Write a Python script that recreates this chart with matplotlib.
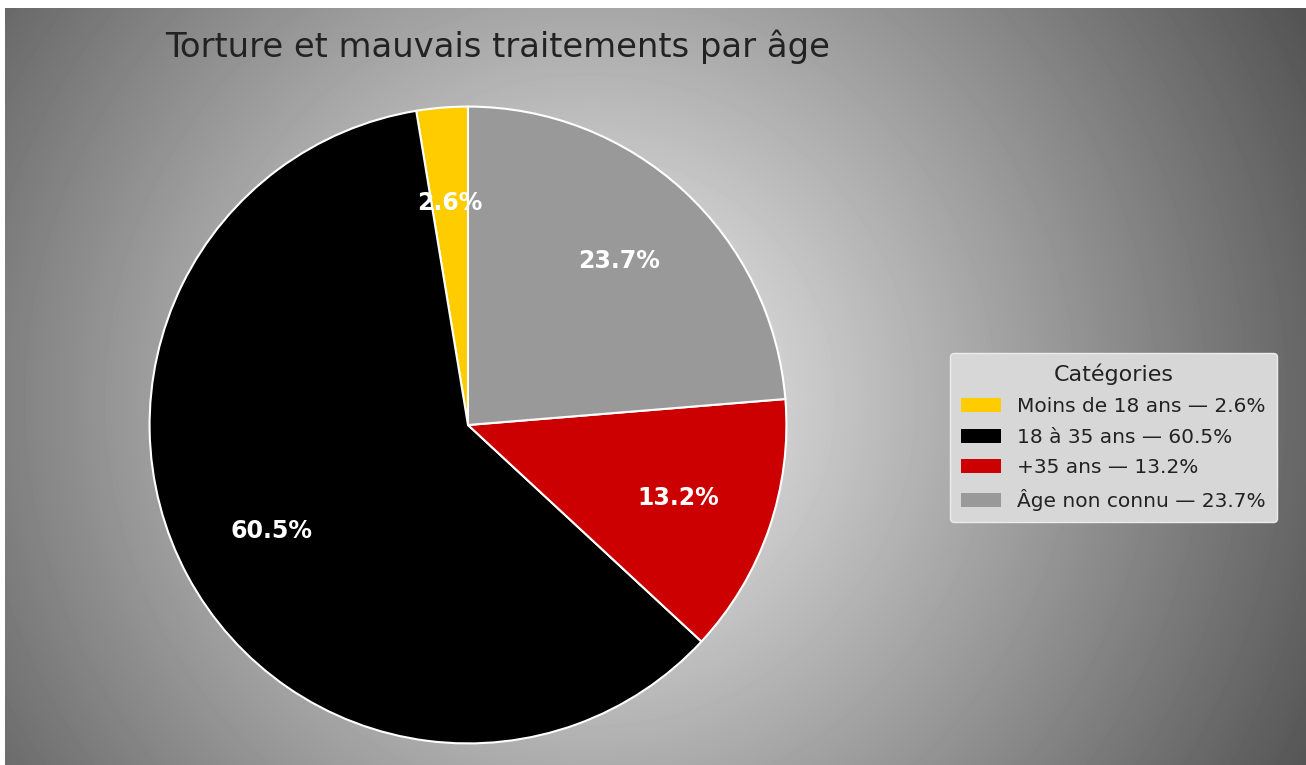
import numpy as np
import matplotlib.pyplot as plt

# donnees
categories = ['Moins de 18 ans', '18 à 35 ans', '+35 ans', 'Âge non connu']
valeurs = [2.6, 60.5, 13.2, 23.7]
couleurs = ['#FFCC00', '#000000', '#CC0000', '#999999']
titre = 'Torture et mauvais traitements par âge'

W, H = 1306, 765
fig = plt.figure(figsize=(W / 100, H / 100), dpi=100, facecolor='white')

# fond en degrade radial (gris)
bg = fig.add_axes([5 / W, 0, (W - 5) / W, (H - 8) / H], zorder=0)
xx, yy = np.meshgrid(np.arange(5, W), np.arange(8, H))
d = np.sqrt((xx - 590.0) ** 2 + (yy - 400.0) ** 2)
lum = np.clip(0.96 - 0.00078 * d, 0.33, 0.86)
bg.imshow(lum, cmap='gray', vmin=0, vmax=1, aspect='auto',
          interpolation='bilinear')
bg.axis('off')

# camembert
cx, cy, r = 468, 425, 320
ax = fig.add_axes([(cx - r) / W, (H - cy - r) / H, 2 * r / W, 2 * r / H],
                  zorder=1)
wedges, textes, autotextes = ax.pie(
    valeurs, colors=couleurs, startangle=90, counterclock=True,
    autopct='%.1f%%', pctdistance=0.7,
    wedgeprops={'edgecolor': 'white', 'linewidth': 1.5},
    textprops={'color': 'white', 'fontsize': 17, 'fontweight': 'bold'})
ax.set_xlim(-1.005, 1.005)
ax.set_ylim(-1.005, 1.005)
ax.set_aspect('equal')

fig.text(165 / W, 1 - 47 / H, titre, fontsize=24.3, color='#222222',
         ha='left', va='center', zorder=3)

etiquettes = [f'{c} — {v}%' for c, v in zip(categories, valeurs)]
leg = fig.legend(wedges, etiquettes, title='Catégories',
                 loc='center left', bbox_to_anchor=(950 / W, 1 - 437.5 / H),
                 bbox_transform=fig.transFigure, borderaxespad=0,
                 fontsize=14.5, title_fontsize=16, facecolor='#d7d7d7',
                 edgecolor='#ececec', framealpha=1, labelcolor='#222222',
                 handlelength=2.0, handletextpad=0.8, borderpad=0.55,
                 labelspacing=0.58)
leg.get_title().set_color('#222222')
for h in leg.legend_handles:
    h.set_edgecolor('none')
leg.set_zorder(4)

fig.savefig('out.png', dpi=100, facecolor='white')
